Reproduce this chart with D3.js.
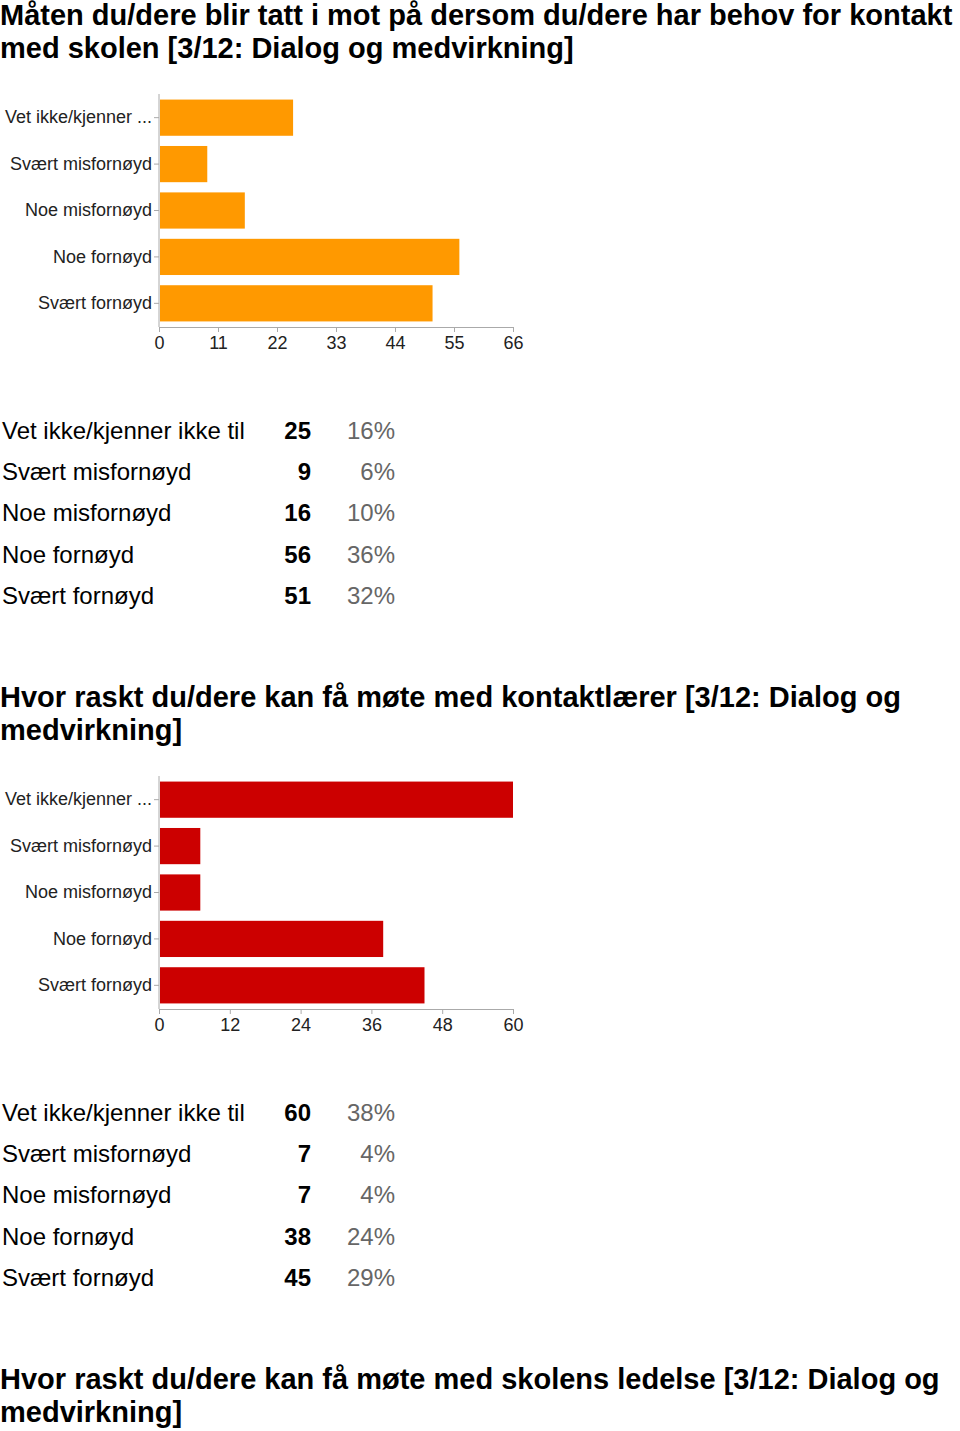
<!DOCTYPE html>
<html><head><meta charset="utf-8">
<script src="https://cdn.jsdelivr.net/npm/d3@7"></script>
<style>body{margin:0;background:#fff}svg{display:block}</style>
</head><body>
<svg id="c" width="960" height="1431"></svg>
<script>
const categories = ["Vet ikke/kjenner ikke til","Svært misfornøyd","Noe misfornøyd","Noe fornøyd","Svært fornøyd"];
const axisLabels = ["Vet ikke/kjenner ...","Svært misfornøyd","Noe misfornøyd","Noe fornøyd","Svært fornøyd"];
const counts1 = [25,9,16,56,51];
const pct1 = [16,6,10,36,32];
const ticks1 = [0,11,22,33,44,55,66];
const counts2 = [60,7,7,38,45];
const pct2 = [38,4,4,24,29];
const ticks2 = [0,12,24,36,48,60];
const titles = [
  ["Måten du/dere blir tatt i mot på dersom du/dere har behov for kontakt","med skolen [3/12: Dialog og medvirkning]"],
  ["Hvor raskt du/dere kan få møte med kontaktlærer [3/12: Dialog og","medvirkning]"],
  ["Hvor raskt du/dere kan få møte med skolens ledelse [3/12: Dialog og","medvirkning]"]
];

const svg = d3.select("#c");
const FONT = "'Liberation Sans', Arial, sans-serif";

function title(lines, y0){
  const g = svg.append("g");
  lines.forEach((l,i)=>{
    g.append("text").attr("x",0).attr("y",y0+i*33)
     .attr("font-family",FONT).attr("font-weight","bold").attr("font-size",29)
     .attr("fill","#000").text(l);
  });
}

function section(off, counts, pcts, ticks, color){
  const x = d3.scaleLinear().domain([0, ticks[ticks.length-1]]).range([159, 513]);
  const y = d3.scaleBand().domain(axisLabels).range([94+off, 327+off]).paddingInner(0.22).paddingOuter(0.12);
  const g = svg.append("g");
  g.selectAll("rect").data(counts).enter().append("rect")
   .attr("x", x(0)+1).attr("y",(d,i)=>y(axisLabels[i]))
   .attr("width", d=>x(d)-x(0)-1).attr("height", y.bandwidth())
   .attr("fill", color);
  const xa = g.append("g").attr("transform",`translate(0,${327+off})`)
   .call(d3.axisBottom(x).tickValues(ticks).tickSize(5).tickPadding(4).tickSizeOuter(0));
  const ya = g.append("g").attr("transform",`translate(159,0)`)
   .call(d3.axisLeft(y).tickSize(5).tickPadding(2).tickSizeOuter(0));
  [xa,ya].forEach(a=>{
    a.select(".domain").attr("stroke","#aaa");
    a.selectAll(".tick line").attr("stroke","#aaa");
    a.selectAll("text").attr("font-family",FONT).attr("font-size",18).attr("fill","#222");
  });
  ya.select(".domain").attr("d",`M0,${off+94}V${off+327}`);
  // table
  const t = svg.append("g").attr("font-family",FONT).attr("font-size",24);
  categories.forEach((c,i)=>{
    const yy = 439+off+i*41.2;
    t.append("text").attr("x",2).attr("y",yy).attr("fill","#000").text(c);
    t.append("text").attr("x",311).attr("y",yy).attr("text-anchor","end").attr("font-weight","bold").attr("fill","#000").text(counts[i]);
    t.append("text").attr("x",395).attr("y",yy).attr("text-anchor","end").attr("fill","#666").text(pcts[i]+"%");
  });
}

title(titles[0], 25);
section(0, counts1, pct1, ticks1, "#ff9900");
title(titles[1], 707);
section(682, counts2, pct2, ticks2, "#cc0000");
title(titles[2], 1389);
</script>
</body></html>
